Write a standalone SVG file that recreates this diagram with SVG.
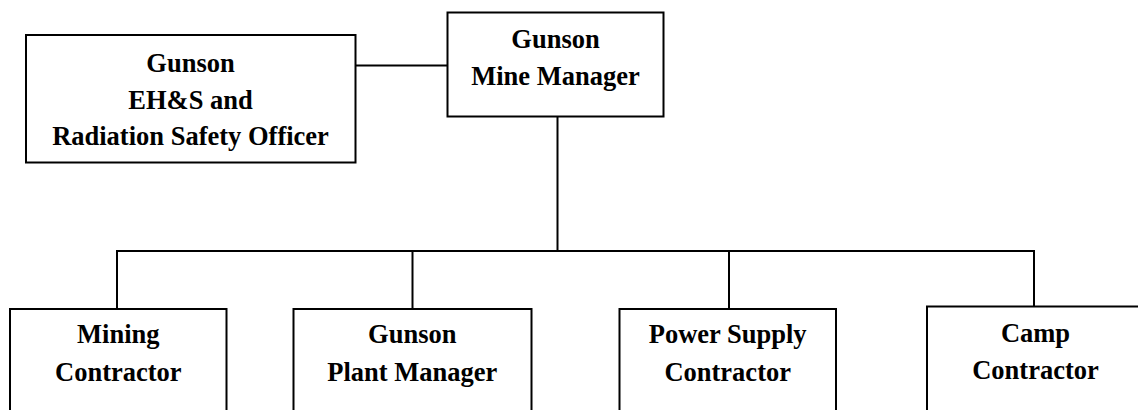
<svg xmlns="http://www.w3.org/2000/svg" width="1138" height="410" viewBox="0 0 1138 410">
<style>
.box{fill:#fff;stroke:#000;stroke-width:2}
.ln{fill:none;stroke:#000;stroke-width:2}
text{font-family:"Liberation Serif","Times New Roman",serif;font-weight:bold;font-size:26.5px;fill:#000;text-anchor:middle}
</style>
<rect width="1138" height="410" fill="#fff"/>
<g id="connectors">
<line class="ln" x1="355" y1="65.5" x2="447.5" y2="65.5"/>
<line class="ln" x1="557.5" y1="116.5" x2="557.5" y2="251"/>
<line class="ln" x1="116.5" y1="251" x2="1034" y2="251"/>
<line class="ln" x1="117" y1="250" x2="117" y2="309"/>
<line class="ln" x1="412.5" y1="250" x2="412.5" y2="309"/>
<line class="ln" x1="729" y1="250" x2="729" y2="309"/>
<line class="ln" x1="1034" y1="250" x2="1034" y2="306"/>
</g>
<g id="ehs">
<rect class="box" x="26" y="35" width="329.5" height="127.5"/>
<text x="190.5" y="72">Gunson</text>
<text x="190.5" y="108.5">EH&amp;S and</text>
<text x="190.5" y="144.5">Radiation Safety Officer</text>
</g>
<g id="mine-manager">
<rect class="box" x="447.5" y="12.5" width="216" height="104"/>
<text x="555.5" y="48">Gunson</text>
<text x="555.5" y="85">Mine Manager</text>
</g>
<g id="mining-contractor">
<rect class="box" x="10" y="309" width="216.5" height="130"/>
<text x="118.3" y="343">Mining</text>
<text x="118.3" y="380.5">Contractor</text>
</g>
<g id="plant-manager">
<rect class="box" x="293.5" y="309" width="238" height="130"/>
<text x="412.3" y="343">Gunson</text>
<text x="412.3" y="380.5">Plant Manager</text>
</g>
<g id="power-supply">
<rect class="box" x="619.5" y="309" width="216.5" height="130"/>
<text x="727.7" y="343">Power Supply</text>
<text x="727.7" y="380.5">Contractor</text>
</g>
<g id="camp-contractor">
<rect class="box" x="927" y="306.5" width="217" height="130"/>
<text x="1035.5" y="341.5">Camp</text>
<text x="1035.5" y="378.5">Contractor</text>
</g>
</svg>
